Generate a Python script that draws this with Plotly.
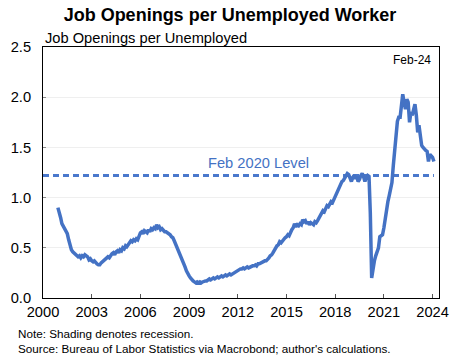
import pandas as pd
import plotly.graph_objects as go

# ---- data (monthly, Dec 2000 - Feb 2024) ----
start_month = "2000-12-01"
openings_per_unemployed = [
    0.90,
    0.86, 0.80, 0.74, 0.71, 0.68, 0.66, 0.64, 0.58, 0.52, 0.48, 0.46, 0.45,  # 2001
    0.44, 0.42, 0.41, 0.42, 0.40, 0.42, 0.41, 0.43, 0.42, 0.41, 0.38, 0.39,  # 2002
    0.37, 0.36, 0.37, 0.35, 0.34, 0.33, 0.33, 0.35, 0.36, 0.37, 0.38, 0.39,  # 2003
    0.41, 0.40, 0.43, 0.44, 0.45, 0.43, 0.46, 0.47, 0.45, 0.48, 0.47, 0.50,  # 2004
    0.49, 0.52, 0.51, 0.53, 0.55, 0.57, 0.56, 0.58, 0.57, 0.59, 0.58, 0.62,  # 2005
    0.65, 0.66, 0.64, 0.67, 0.66, 0.65, 0.68, 0.66, 0.69, 0.68, 0.70, 0.69,  # 2006
    0.73, 0.70, 0.71, 0.68, 0.69, 0.67, 0.66, 0.66, 0.65, 0.64, 0.63, 0.61,  # 2007
    0.60, 0.57, 0.54, 0.51, 0.48, 0.45, 0.42, 0.38, 0.35, 0.31, 0.27, 0.24,  # 2008
    0.22, 0.20, 0.18, 0.17, 0.16, 0.15, 0.16, 0.15, 0.16, 0.15, 0.16, 0.17,  # 2009
    0.17, 0.17, 0.18, 0.19, 0.18, 0.19, 0.20, 0.19, 0.20, 0.21, 0.20, 0.21,  # 2010
    0.22, 0.21, 0.22, 0.23, 0.22, 0.23, 0.24, 0.23, 0.24, 0.25, 0.26, 0.27,  # 2011
    0.27, 0.28, 0.29, 0.29, 0.30, 0.29, 0.30, 0.31, 0.30, 0.31, 0.32, 0.32,  # 2012
    0.32, 0.33, 0.32, 0.34, 0.34, 0.35, 0.35, 0.36, 0.37, 0.37, 0.38, 0.40,  # 2013
    0.42, 0.43, 0.45, 0.48, 0.50, 0.52, 0.53, 0.56, 0.55, 0.57, 0.58, 0.60,  # 2014
    0.61, 0.63, 0.62, 0.66, 0.68, 0.70, 0.74, 0.71, 0.73, 0.72, 0.74, 0.73,  # 2015
    0.78, 0.76, 0.77, 0.74, 0.76, 0.73, 0.75, 0.74, 0.73, 0.76, 0.75, 0.77,  # 2016
    0.80, 0.82, 0.84, 0.87, 0.86, 0.90, 0.92, 0.91, 0.94, 0.96, 0.95, 0.98,  # 2017
    1.01, 1.04, 1.07, 1.11, 1.14, 1.16, 1.17, 1.20, 1.22, 1.24, 1.23, 1.18,  # 2018
    1.16, 1.20, 1.22, 1.19, 1.21, 1.16, 1.18, 1.22, 1.24, 1.21, 1.16, 1.20,  # 2019
    1.22, 1.21, 0.85, 0.20, 0.30, 0.37, 0.42, 0.47, 0.50, 0.61, 0.62, 0.63,  # 2020
    0.70, 0.80, 0.88, 0.96, 1.02, 1.08, 1.15, 1.32, 1.49, 1.60, 1.76, 1.80,  # 2021
    1.80, 1.92, 2.03, 1.95, 1.88, 1.98, 1.95, 1.75, 1.85, 1.82, 1.88, 1.93,  # 2022
    1.82, 1.65, 1.72, 1.62, 1.52, 1.50, 1.48, 1.47, 1.46, 1.36, 1.43, 1.42,  # 2023
    1.40, 1.36,                                                              # 2024
]
feb2020_level = 1.22
year_ticks = [2000, 2003, 2006, 2009, 2012, 2015, 2018, 2021, 2024]
y_ticks = [0.0, 0.5, 1.0, 1.5, 2.0, 2.5]

months = pd.date_range(start_month, periods=len(openings_per_unemployed), freq="MS")
x_start = "2000-01-01"
x_end = "2024-05-25"

BLUE = "#4472C4"
FONT = "Liberation Sans, Arial, sans-serif"
W, H = 460, 360
PW, PH = 408, 251  # plot area size in pixels (x 41..449, y 47..298)

fig = go.Figure()
fig.add_trace(go.Scatter(
    x=[x_start, months[-1]], y=[feb2020_level, feb2020_level],
    mode="lines", line=dict(color="#4A78CC", width=3, dash="6px,4px"),
    hoverinfo="skip", showlegend=False))
fig.add_trace(go.Scatter(
    x=months, y=openings_per_unemployed, mode="lines",
    line=dict(color=BLUE, width=3.5), showlegend=False))

fig.update_layout(
    width=W, height=H,
    margin=dict(l=41, r=11, t=47, b=62, pad=0),
    paper_bgcolor="white", plot_bgcolor="white",
    font=dict(family=FONT, color="black", size=14.67),
    title=dict(text="<b>Job Openings per Unemployed Worker</b>",
               x=230 / W, xanchor="center", xref="container",
               y=1 - 15 / H, yanchor="middle",
               font=dict(size=18, family=FONT, color="black")),
)
fig.update_xaxes(
    type="date", range=[x_start, x_end],
    tickvals=[f"{y}-01-01" for y in year_ticks], ticktext=[str(y) for y in year_ticks],
    ticks="inside", ticklen=4, tickcolor="#555555", tickwidth=1,
    showgrid=False, showline=True, linecolor="black", linewidth=1, mirror=True,
    tickfont=dict(size=14.67, family=FONT, color="black"), zeroline=False,
)
fig.update_yaxes(
    range=[0, 2.5], tickvals=y_ticks, ticktext=[f"{v:.1f}" for v in y_ticks],
    ticks="inside", ticklen=3, tickcolor="#888888",
    showgrid=True, gridcolor="#EFEFEF", gridwidth=1,
    showline=True, linecolor="black", linewidth=1, mirror=True,
    tickfont=dict(size=14.67, family=FONT, color="black"), zeroline=False,
    ticklabelstandoff=8,
)

fig.add_annotation(text="Job Openings per Unemployed", xref="paper", yref="paper",
                   x=0, y=(298 - 38) / PH, xanchor="left", yanchor="middle",
                   showarrow=False, font=dict(size=14.67, family=FONT, color="black"))
fig.add_annotation(text="Feb-24", xref="paper", yref="paper",
                   x=(443 - 41) / PW, y=(298 - 60) / PH, xanchor="right", yanchor="middle",
                   showarrow=False, font=dict(size=12, family=FONT, color="black"))
fig.add_annotation(text="Feb 2020 Level", xref="paper", yref="y",
                   x=(263 - 41) / PW, y=1.34, xanchor="center", yanchor="middle",
                   showarrow=False, font=dict(size=14.67, family=FONT, color=BLUE))
fig.add_annotation(text="Note: Shading denotes recession.", xref="paper", yref="paper",
                   x=(13 - 41) / PW, y=(298 - 333.5) / PH, xanchor="left", yanchor="middle",
                   showarrow=False, font=dict(size=11.7, family=FONT, color="black"))
fig.add_annotation(text="Source: Bureau of Labor Statistics via Macrobond; author's calculations.",
                   xref="paper", yref="paper",
                   x=(13 - 41) / PW, y=(298 - 348.5) / PH, xanchor="left", yanchor="middle",
                   showarrow=False, font=dict(size=11.7, family=FONT, color="black"))

fig.write_html("out.html",
               config={"displayModeBar": False},
               post_script="document.body.style.margin='0';document.body.style.overflow='hidden';")
